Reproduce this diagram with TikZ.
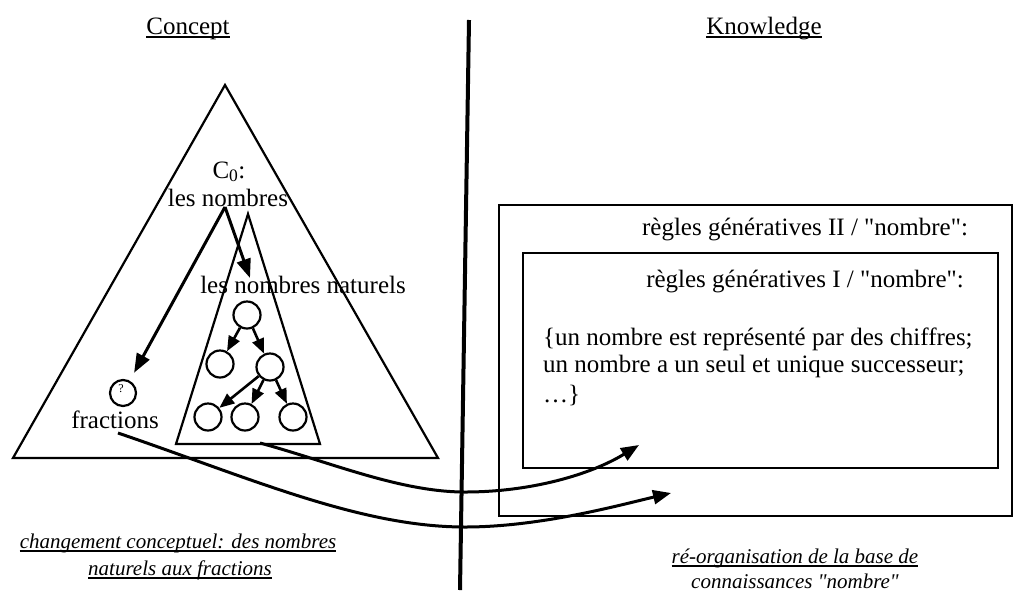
\documentclass[tikz,border=0pt]{standalone}
\usepackage{fontspec}
\setmainfont{Liberation Serif}
\usetikzlibrary{arrows.meta}
\begin{document}
\begin{tikzpicture}[x=1pt,y=-1pt,
  lbl/.style={font=\fontsize{25}{28}\selectfont, inner sep=0pt},
  ital/.style={font=\fontsize{21}{26}\selectfont\itshape, inner sep=0pt},
  tri/.style={line width=2.2pt, line join=miter},
  circ/.style={circle, draw, line width=2.2pt, minimum size=27pt, inner sep=0pt},
  arr/.style={line width=3pt, -{Triangle[length=18pt,width=14pt]}},
  tarr/.style={line width=2.6pt, -{Triangle[length=15pt,width=12pt]}},
  box/.style={draw, line width=2pt},
  ul/.style={line width=1.3pt}
]
\useasboundingbox (0,0) rectangle (1016,600);
\fill[white] (0,0) rectangle (1016,600);

% headings
\node[lbl, anchor=base] (concept) at (188,34) {Concept};
\draw[ul] ([yshift=-3pt]concept.base west) -- ([yshift=-3pt]concept.base east);
\node[lbl, anchor=base] (knowledge) at (764,34) {Knowledge};
\draw[ul] ([yshift=-3pt]knowledge.base west) -- ([yshift=-3pt]knowledge.base east);

% divider
\coordinate (vt) at (469,20);
\coordinate (vb) at (460,590);
\draw[line width=4pt] (vt) -- (vb);

% triangles
\draw[tri] (225,85) -- (13,458) -- (438,458) -- cycle;
\draw[tri] (248,214) -- (176,444) -- (320,444) -- cycle;

% concept texts
\node[lbl, anchor=base] (c0) at (229,178) {C\textsubscript{0}:};
\node[lbl, anchor=base] (nb) at (228,206) {les nombres};
\node[lbl, anchor=base] (nat) at (303,293) {les nombres naturels};
\node[lbl, anchor=base] (frac) at (115,428) {fractions};
\coordinate (ln) at (225,207);
\coordinate (natTop) at (250,278);

% tree
\node[circ] (n1) at (247,315) {};
\node[circ] (n2) at (220,364) {};
\node[circ] (n3) at (270,367) {};
\node[circ] (n4) at (208,417) {};
\node[circ] (n5) at (245,417) {};
\node[circ] (n6) at (293,417) {};
\draw[tarr] (n1) -- (n2);
\draw[tarr] (n1) -- (n3);
\draw[tarr] (n3) -- (n4);
\draw[tarr] (n3) -- (n5);
\draw[tarr] (n3) -- (n6);

% question circle
\node[circ, minimum size=26pt] (q) at (123,393) {};
\node[font=\fontsize{12}{12}\selectfont, inner sep=0pt] (qm) at (121,389) {?};

\draw[arr, -{Triangle[length=19pt,width=14pt]}] (ln) -- (natTop);
\draw[arr, -{Triangle[length=19pt,width=14pt]}, shorten >=9pt] (ln) -- (q);

% knowledge boxes
\draw[box] (499,205) rectangle (1012,516);
\draw[box] (523,253) rectangle (998,468);
\node[lbl, anchor=base] (r2) at (805,235) {règles génératives II / \textquotedbl nombre\textquotedbl:};
\node[lbl, anchor=base] (r1) at (805,287) {règles génératives I / \textquotedbl nombre\textquotedbl:};
\node[lbl, anchor=base west] (b1) at (543,345) {\{un nombre est représenté par des chiffres;};
\node[lbl, anchor=base west] (b2) at (543,372) {un nombre a un seul et unique successeur;};
\node[lbl, anchor=base west] (b3) at (543,402) {…\}};

% curved connectors
\coordinate (startA) at (118,433);
\coordinate (startB) at (260,443);
\coordinate (tipA) at (671,493);
\coordinate (tipB) at (639,445);
\draw[arr] (startA) .. controls (250,478) and (360,527) .. (465,527) .. controls (540,527) and (620,505) .. (tipA);
\draw[arr] (startB) .. controls (330,462) and (400,492) .. (465,492) .. controls (530,492) and (590,475) .. (tipB);

% bottom captions
\node[ital, anchor=base] (bl1) at (178,548) {changement conceptuel: des nombres};
\draw[ul] ([yshift=-3pt]bl1.base west) -- ([yshift=-3pt]bl1.base east);
\node[ital, anchor=base] (bl2) at (180,575) {naturels aux fractions};
\draw[ul] ([yshift=-3pt]bl2.base west) -- ([yshift=-3pt]bl2.base east);
\node[ital, anchor=base] (br1) at (795,563) {ré-organisation de la base de};
\draw[ul] ([yshift=-3pt]br1.base west) -- ([yshift=-3pt]br1.base east);
\node[ital, anchor=base] (br2) at (795,588) {connaissances \textquotedbl nombre\textquotedbl};
\end{tikzpicture}
\end{document}
